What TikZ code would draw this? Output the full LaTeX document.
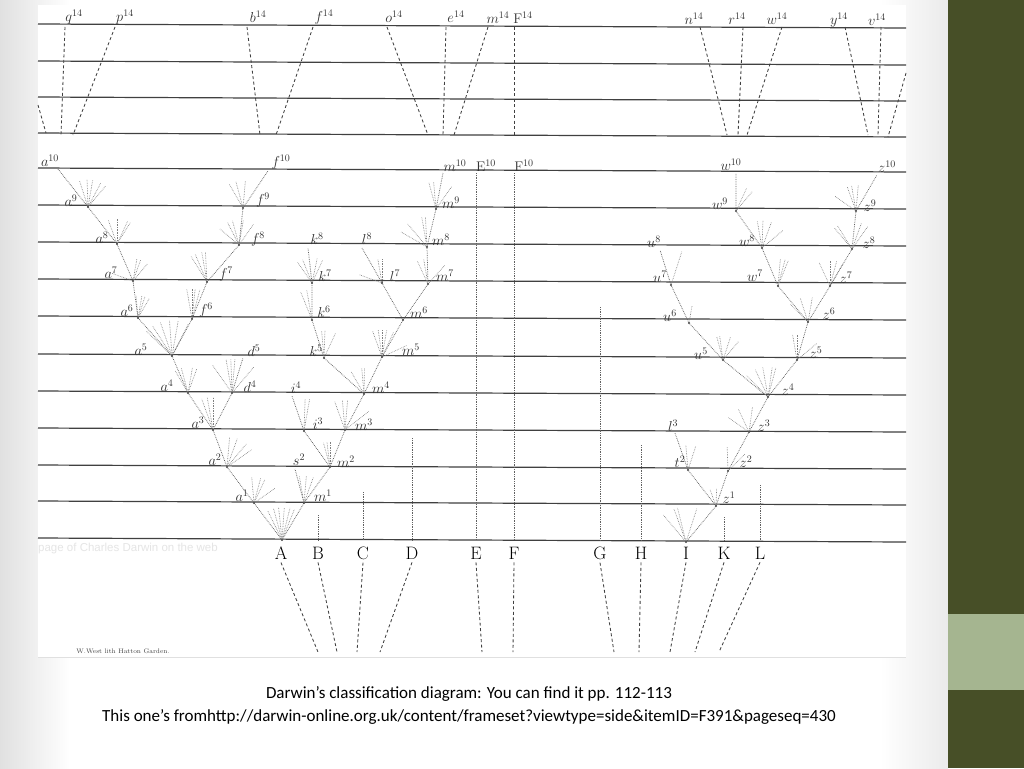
\documentclass[tikz,border=0pt]{standalone}
\usepackage{fontspec}
\usepackage{tikz}
\usetikzlibrary{positioning}
\newfontfamily\slidefont{Carlito}
\newfontfamily\ghostfont{Liberation Sans}
\definecolor{barolive}{HTML}{474F27}
\definecolor{barsage}{HTML}{A5B590}
\tikzset{gen/.style = {line width = 1.2pt, black!75}}
\tikzset{stem/.style = {densely dotted, line width = 0.75pt, black!62}}
\tikzset{twig/.style = {densely dotted, line width = 0.65pt, black!50}}
\tikzset{far/.style = {line width = 0.85pt, black!75, dash pattern = on 3pt off 2.5pt}}
\tikzset{lbl/.style = {font = \fontsize{14}{14}\selectfont, inner sep = 0, text = black!80}}
\tikzset{species/.style = {font = \fontsize{18}{18}\selectfont, inner sep = 0, text = black}}
\newcommand{\twigs}[3]{\foreach \t in {#2} {\draw [twig] (#1) -- ++(\t:#3);}}

\begin{document}
\begin{tikzpicture}[x = 1pt, y = -1pt]
  \useasboundingbox (0, 0) rectangle (1024, 768);
  % slide
  \fill [white] (0, 0) rectangle (1024, 768);
  \shade [left color = black!12, right color = white] (0, 0) rectangle (70, 768);
  \shade [left color = white, right color = black!8] (880, 0) rectangle (948, 768);
  \fill [barolive] (948, 0) rectangle (1024, 768);
  \fill [barsage] (948, 614) rectangle (1024, 690);
  \fill [white] (38, 5) rectangle (906, 657);
  \draw [black!12] (38, 657) -- (906, 657);

  % generation lines
  \foreach \y in {26, 63, 99, 135, 170, 207, 244, 281, 318, 356, 393, 430, 467, 503, 540} {
    \draw [gen] (38, \y - 2) -- (906, \y + 2);
  }

  % fourteenth generation
  \foreach \top/\bot in {65/61, 115/73, 247/260, 313/276, 387/428, 446/443, 488/454, 514/514, 700/727, 743/738, 782/747, 845/868, 881/878} {
    \draw [far] (\top, 27) -- (\bot, 135);
  }
  \coordinate (lfar) at (38, 105);
  \coordinate (lfarb) at (46, 133);
  \coordinate (rfar) at (906, 73);
  \coordinate (rfarb) at (888, 137);
  \draw [far] (lfar) -- (lfarb);
  \draw [far] (rfar) -- (rfarb);

  \node [lbl] (q14) at (74, 17) {$q^{14}$};
  \node [lbl] (p14) at (125, 17) {$p^{14}$};
  \node [lbl] (b14) at (258, 17) {$b^{14}$};
  \node [lbl] (f14) at (324, 17) {$f^{14}$};
  \node [lbl] (o14) at (394, 17) {$o^{14}$};
  \node [lbl] (e14) at (456, 17) {$e^{14}$};
  \node [lbl] (m14) at (498, 18) {$m^{14}$};
  \node [lbl] (F14) at (523, 18) {$\mathrm{F}^{14}$};
  \node [lbl] (n14) at (694, 19) {$n^{14}$};
  \node [lbl] (r14) at (737, 19) {$r^{14}$};
  \node [lbl] (w14) at (777, 19) {$w^{14}$};
  \node [lbl] (y14) at (839, 20) {$y^{14}$};
  \node [lbl] (v14) at (877, 20) {$v^{14}$};

  % branch points, A side
  \coordinate (A0) at (282, 540);
  \coordinate (a1) at (254, 503);
  \coordinate (a2) at (227, 467);
  \coordinate (a3) at (213, 430);
  \coordinate (a4) at (188, 393);
  \coordinate (a5) at (172, 356);
  \coordinate (a6) at (138, 318);
  \coordinate (a7) at (133, 281);
  \coordinate (a8) at (117, 244);
  \coordinate (a9) at (88, 207);
  \coordinate (a10) at (58, 169);
  \coordinate (d4) at (232, 393);
  \coordinate (d5) at (243, 358);
  \coordinate (f6) at (192, 319);
  \coordinate (f7) at (207, 282);
  \coordinate (f8) at (239, 245);
  \coordinate (f9) at (243, 208);
  \coordinate (f10) at (268, 171);
  \coordinate (m1) at (304, 503);
  \coordinate (s2) at (295, 469);
  \coordinate (m2) at (330, 467);
  \coordinate (i3) at (304, 431);
  \coordinate (i4) at (292, 396);
  \coordinate (m3) at (345, 430);
  \coordinate (m4) at (364, 394);
  \coordinate (k5) at (324, 358);
  \coordinate (k6) at (312, 320);
  \coordinate (k7) at (312, 283);
  \coordinate (k8) at (308, 248);
  \coordinate (m5) at (382, 357);
  \coordinate (m6) at (403, 320);
  \coordinate (l7) at (382, 283);
  \coordinate (l8) at (362, 248);
  \coordinate (m7) at (428, 284);
  \coordinate (m8) at (427, 247);
  \coordinate (m9) at (436, 209);
  \coordinate (m10) at (443, 173);

  % branch points, I side
  \coordinate (I0) at (686, 542);
  \coordinate (z1) at (716, 506);
  \coordinate (t2) at (688, 470);
  \coordinate (l3) at (675, 433);
  \coordinate (z2) at (728, 471);
  \coordinate (z3) at (749, 432);
  \coordinate (z4) at (768, 397);
  \coordinate (u5) at (723, 360);
  \coordinate (u6) at (689, 323);
  \coordinate (u7) at (671, 285);
  \coordinate (u8) at (660, 250);
  \coordinate (z5) at (797, 360);
  \coordinate (z6) at (808, 322);
  \coordinate (w7) at (778, 286);
  \coordinate (w8) at (762, 248);
  \coordinate (w9) at (736, 211);
  \coordinate (w10) at (736, 173);
  \coordinate (z7) at (830, 286);
  \coordinate (z8) at (852, 249);
  \coordinate (z9) at (856, 211);
  \coordinate (z10) at (877, 175);

  % lineages
  \draw [stem] (A0) -- (a1) -- (a2) -- (a3) -- (a4) -- (a5) -- (a6) -- (a7) -- (a8) -- (a9) -- (a10);
  \draw [stem] (a3) -- (d4) -- (d5);
  \draw [stem] (a5) -- (f6) -- (f7) -- (f8) -- (f9) -- (f10);
  \draw [stem] (A0) -- (m1) -- (m2) -- (m3) -- (m4) -- (m5) -- (m6) -- (m7) -- (m8) -- (m9) -- (m10);
  \draw [stem] (m1) -- (s2);
  \draw [stem] (m2) -- (i3) -- (i4);
  \draw [stem] (m4) -- (k5) -- (k6) -- (k7) -- (k8);
  \draw [stem] (m6) -- (l7) -- (l8);
  \draw [stem] (I0) -- (z1) -- (z2) -- (z3) -- (z4) -- (z5) -- (z6) -- (z7) -- (z8) -- (z9) -- (z10);
  \draw [stem] (z1) -- (t2) -- (l3);
  \draw [stem] (z4) -- (u5) -- (u6) -- (u7) -- (u8);
  \draw [stem] (z6) -- (w7) -- (w8) -- (w9) -- (w10);

  % short dying branches
  \twigs{A0}{-116, -105, -96, -86, -76, -68}{33}
  \twigs{a1}{-95, -75, -65, -35}{26}
  \twigs{a2}{-85, -70, -50, -35}{30}
  \twigs{a3}{-110, -100, -90}{33}
  \twigs{a4}{-120, -105, -80, -70}{26}
  \twigs{d4}{-125, -100, -92, -85, -50}{34}
  \twigs{a5}{-136, -123, -109, -94, -80, -63}{36}
  \twigs{a6}{-95, -80, -72, -60}{23}
  \twigs{a7}{-160, -80, -70, -50}{23}
  \twigs{a8}{-110, -90, -65, -58}{25}
  \twigs{a9}{-108, -92, -80, -62, -50}{28}
  \twigs{f9}{-120, -105, -85}{28}
  \twigs{f8}{-140, -117, -105, -80, -55}{25}
  \twigs{f7}{-122, -113, -100, -93}{30}
  \twigs{f6}{-100, -90, -84, -75}{30}
  \twigs{k7}{-125, -112, -78, -65}{25}
  \twigs{k6}{-112, -100}{30}
  \twigs{k5}{-95, -88, -65}{28}
  \twigs{m5}{-110, -98, -90, -80, -65, -25}{28}
  \twigs{m4}{-120, -95, -89}{26}
  \twigs{i3}{-88, -80}{32}
  \twigs{m3}{-110, -95, -85, -38}{30}
  \twigs{m2}{-105, -97, -90}{25}
  \twigs{m1}{-100, -85, -70}{27}
  \twigs{l7}{-160, -100, -90}{24}
  \twigs{m7}{-115, -100, -48}{25}
  \twigs{m8}{-150, -130, -100, -93}{30}
  \twigs{m9}{-105, -95, -55}{27}
  \twigs{w9}{-65, -50}{25}
  \twigs{w8}{-100, -88, -70, -40}{28}
  \twigs{w7}{-85, -75, -68}{28}
  \twigs{z9}{-145, -110, -100, -85}{26}
  \twigs{z8}{-130, -122, -70, -55}{28}
  \twigs{z7}{-115, -90, -75, -60}{26}
  \twigs{z6}{-135, -108, -80}{25}
  \twigs{u7}{-72}{35}
  \twigs{u6}{-80}{18}
  \twigs{u5}{-105, -98, -72, -50}{24}
  \twigs{z5}{-100, -90, -40}{26}
  \twigs{z4}{-135, -115, -100, -82, -75}{30}
  \twigs{z3}{-145, -115, -82}{25}
  \twigs{z2}{-92, -45}{24}
  \twigs{t2}{-95, -72}{25}
  \twigs{z1}{-110, -88}{18}
  \twigs{I0}{-130, -110, -104, -72}{35}

  \foreach \n in {A0, a1, a2, a3, a4, a5, a6, a7, a8, a9, d4, f6, f7, f8, f9, m1, m2, m3, m4, m5, m6, m7, m8, m9, i3, k5, k6, k7, l7, I0, z1, z2, z3, z4, z5, z6, z7, z8, z9, t2, u5, u6, u7, w7, w8, w9} {
    \fill [black!70] (\n) circle (1.2);
  }

  % names of the forms
  \node [lbl] (a10t) at (50, 161) {$a^{10}$};
  \node [lbl] (a9t) at (71, 201) {$a^{9}$};
  \node [lbl] (a8t) at (102, 238) {$a^{8}$};
  \node [lbl] (a7t) at (111, 273) {$a^{7}$};
  \node [lbl] (a6t) at (127, 311) {$a^{6}$};
  \node [lbl] (a5t) at (141, 350) {$a^{5}$};
  \node [lbl] (a4t) at (167, 386) {$a^{4}$};
  \node [lbl] (a3t) at (198, 423) {$a^{3}$};
  \node [lbl] (a2t) at (215, 460) {$a^{2}$};
  \node [lbl] (a1t) at (242, 496) {$a^{1}$};
  \node [lbl] (d5t) at (254, 351) {$d^{5}$};
  \node [lbl] (d4t) at (250, 387) {$d^{4}$};
  \node [lbl] (f10t) at (281, 162) {$f^{10}$};
  \node [lbl] (f9t) at (263, 200) {$f^{9}$};
  \node [lbl] (f8t) at (258, 239) {$f^{8}$};
  \node [lbl] (f7t) at (226, 274) {$f^{7}$};
  \node [lbl] (f6t) at (206, 310) {$f^{6}$};
  \node [lbl] (k8t) at (317, 239) {$k^{8}$};
  \node [lbl] (k7t) at (325, 276) {$k^{7}$};
  \node [lbl] (k6t) at (324, 312) {$k^{6}$};
  \node [lbl] (k5t) at (316, 351) {$k^{5}$};
  \node [lbl] (l8t) at (367, 239) {$l^{8}$};
  \node [lbl] (l7t) at (395, 276) {$l^{7}$};
  \node [lbl] (m10t) at (455, 166) {$m^{10}$};
  \node [lbl] (m9t) at (451, 203) {$m^{9}$};
  \node [lbl] (m8t) at (441, 240) {$m^{8}$};
  \node [lbl] (m7t) at (445, 276) {$m^{7}$};
  \node [lbl] (m6t) at (419, 313) {$m^{6}$};
  \node [lbl] (m5t) at (411, 350) {$m^{5}$};
  \node [lbl] (m4t) at (381, 388) {$m^{4}$};
  \node [lbl] (m3t) at (364, 425) {$m^{3}$};
  \node [lbl] (m2t) at (346, 462) {$m^{2}$};
  \node [lbl] (m1t) at (323, 496) {$m^{1}$};
  \node [lbl] (i4t) at (296, 388) {$i^{4}$};
  \node [lbl] (i3t) at (318, 424) {$i^{3}$};
  \node [lbl] (s2t) at (299, 460) {$s^{2}$};
  \node [lbl] (E10t) at (486, 166) {$\mathrm{E}^{10}$};
  \node [lbl] (F10t) at (524, 166) {$\mathrm{F}^{10}$};
  \node [lbl] (w10t) at (731, 165) {$w^{10}$};
  \node [lbl] (w9t) at (720, 204) {$w^{9}$};
  \node [lbl] (w8t) at (747, 241) {$w^{8}$};
  \node [lbl] (w7t) at (755, 276) {$w^{7}$};
  \node [lbl] (u8t) at (654, 242) {$u^{8}$};
  \node [lbl] (u7t) at (660, 277) {$u^{7}$};
  \node [lbl] (u6t) at (670, 316) {$u^{6}$};
  \node [lbl] (u5t) at (701, 354) {$u^{5}$};
  \node [lbl] (z10t) at (887, 167) {$z^{10}$};
  \node [lbl] (z9t) at (870, 206) {$z^{9}$};
  \node [lbl] (z8t) at (869, 243) {$z^{8}$};
  \node [lbl] (z7t) at (846, 278) {$z^{7}$};
  \node [lbl] (z6t) at (829, 314) {$z^{6}$};
  \node [lbl] (z5t) at (816, 353) {$z^{5}$};
  \node [lbl] (z4t) at (788, 390) {$z^{4}$};
  \node [lbl] (z3t) at (764, 426) {$z^{3}$};
  \node [lbl] (z2t) at (746, 462) {$z^{2}$};
  \node [lbl] (z1t) at (729, 498) {$z^{1}$};
  \node [lbl] (l3t) at (673, 426) {$l^{3}$};
  \node [lbl] (t2t) at (680, 462) {$t^{2}$};

  % species of the genus
  \foreach \n/\x/\top/\bot in {A/281/540/318, B/318/515/337, C/363/492/357, D/412/438/380, E/476/173/482, F/514/173/513, G/600/307/614, H/641/445/639, I/686/542/670, K/724/517/695, L/760/485/719} {
    \node [species] (\n) at (\x, 553) {\n};
    \coordinate (\n top) at (\x, \top);
    \coordinate (\n bot) at (\bot, 652);
    \draw [far] ([yshift = -3pt] \n.south) -- (\n bot);
  }
  \foreach \n in {B, C, D, E, F, G, H, K, L} {
    \draw [stem] (\n top) -- (\n top |- A0);
  }

  \node [font = \fontsize{6.5}{7}\selectfont, inner sep = 0, text = black!75] (lith) at (123, 651) {W.West lith Hatton Garden.};
  \node [font = \ghostfont\fontsize{11.5}{12}\selectfont, text = black!10, anchor = west, inner sep = 0] (ghost) at (38, 549) {page of Charles Darwin on the web};

  % caption
  \node [font = \slidefont\fontsize{17}{23}\selectfont, align = center, inner sep = 0] (caption) at (469, 705) {Darwin’s classification diagram: You can find it pp. 112-113\\This one’s fromhttp://darwin-online.org.uk/content/frameset?viewtype=side\&itemID=F391\&pageseq=430};
\end{tikzpicture}
\end{document}
